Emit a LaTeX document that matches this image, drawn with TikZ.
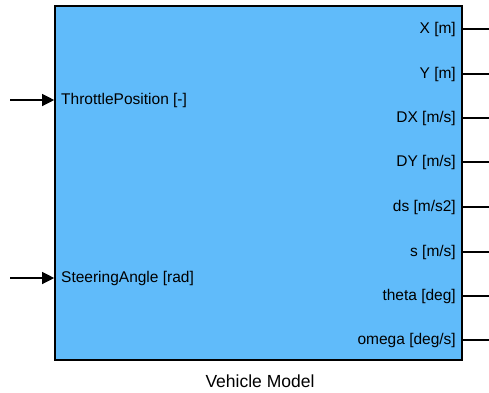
\documentclass[tikz,border=0pt]{standalone}
\usepackage{fontspec}
\setmainfont{Liberation Sans}
\usetikzlibrary{arrows.meta}
\definecolor{blockblue}{RGB}{96,187,250}
\tikzset{
  port/.style={font=\fontsize{15.5}{18}\selectfont, inner sep=0pt},
  sig/.style={line width=1.2pt},
}
\begin{document}
\begin{tikzpicture}[x=1pt,y=-1pt]
  \useasboundingbox (0,0) rectangle (489,392);

  \node (block) at (258.5,183) [draw,line width=1.6pt,fill=blockblue,minimum width=407pt,minimum height=354pt,inner sep=0]{};
  \node (name) at (260,381) [inner sep=0pt,font=\fontsize{17.5}{20}\selectfont]{Vehicle Model};

  % inputs
  \coordinate (inThrottle) at (10,100);
  \coordinate (inSteering) at (10,278);
  \node (lThrottle) at (61,100) [port,anchor=west]{ThrottlePosition [-]};
  \node (lSteering) at (61,278) [port,anchor=west]{SteeringAngle [rad]};

  \draw[sig,-{Triangle[length=12pt,width=12pt]}] (inThrottle) -- (block.west |- inThrottle);
  \draw[sig,-{Triangle[length=12pt,width=12pt]}] (inSteering) -- (block.west |- inSteering);

  % outputs
  \coordinate (outX) at (489,29);
  \coordinate (outY) at (489,74);
  \coordinate (outDX) at (489,118);
  \coordinate (outDY) at (489,162);
  \coordinate (outDs) at (489,207);
  \coordinate (outS) at (489,252);
  \coordinate (outTheta) at (489,296);
  \coordinate (outOmega) at (489,340);

  \node (lX) at (456,29) [port,anchor=east]{X [m]};
  \node (lY) at (456,74) [port,anchor=east]{Y [m]};
  \node (lDX) at (456,118) [port,anchor=east]{DX [m/s]};
  \node (lDY) at (456,162) [port,anchor=east]{DY [m/s]};
  \node (lDs) at (456,207) [port,anchor=east]{ds [m/s2]};
  \node (lS) at (456,252) [port,anchor=east]{s [m/s]};
  \node (lTheta) at (456,296) [port,anchor=east]{theta [deg]};
  \node (lOmega) at (456,340) [port,anchor=east]{omega [deg/s]};

  \draw[sig] (block.east |- outX) -- (outX);
  \draw[sig] (block.east |- outY) -- (outY);
  \draw[sig] (block.east |- outDX) -- (outDX);
  \draw[sig] (block.east |- outDY) -- (outDY);
  \draw[sig] (block.east |- outDs) -- (outDs);
  \draw[sig] (block.east |- outS) -- (outS);
  \draw[sig] (block.east |- outTheta) -- (outTheta);
  \draw[sig] (block.east |- outOmega) -- (outOmega);

\end{tikzpicture}
\end{document}
